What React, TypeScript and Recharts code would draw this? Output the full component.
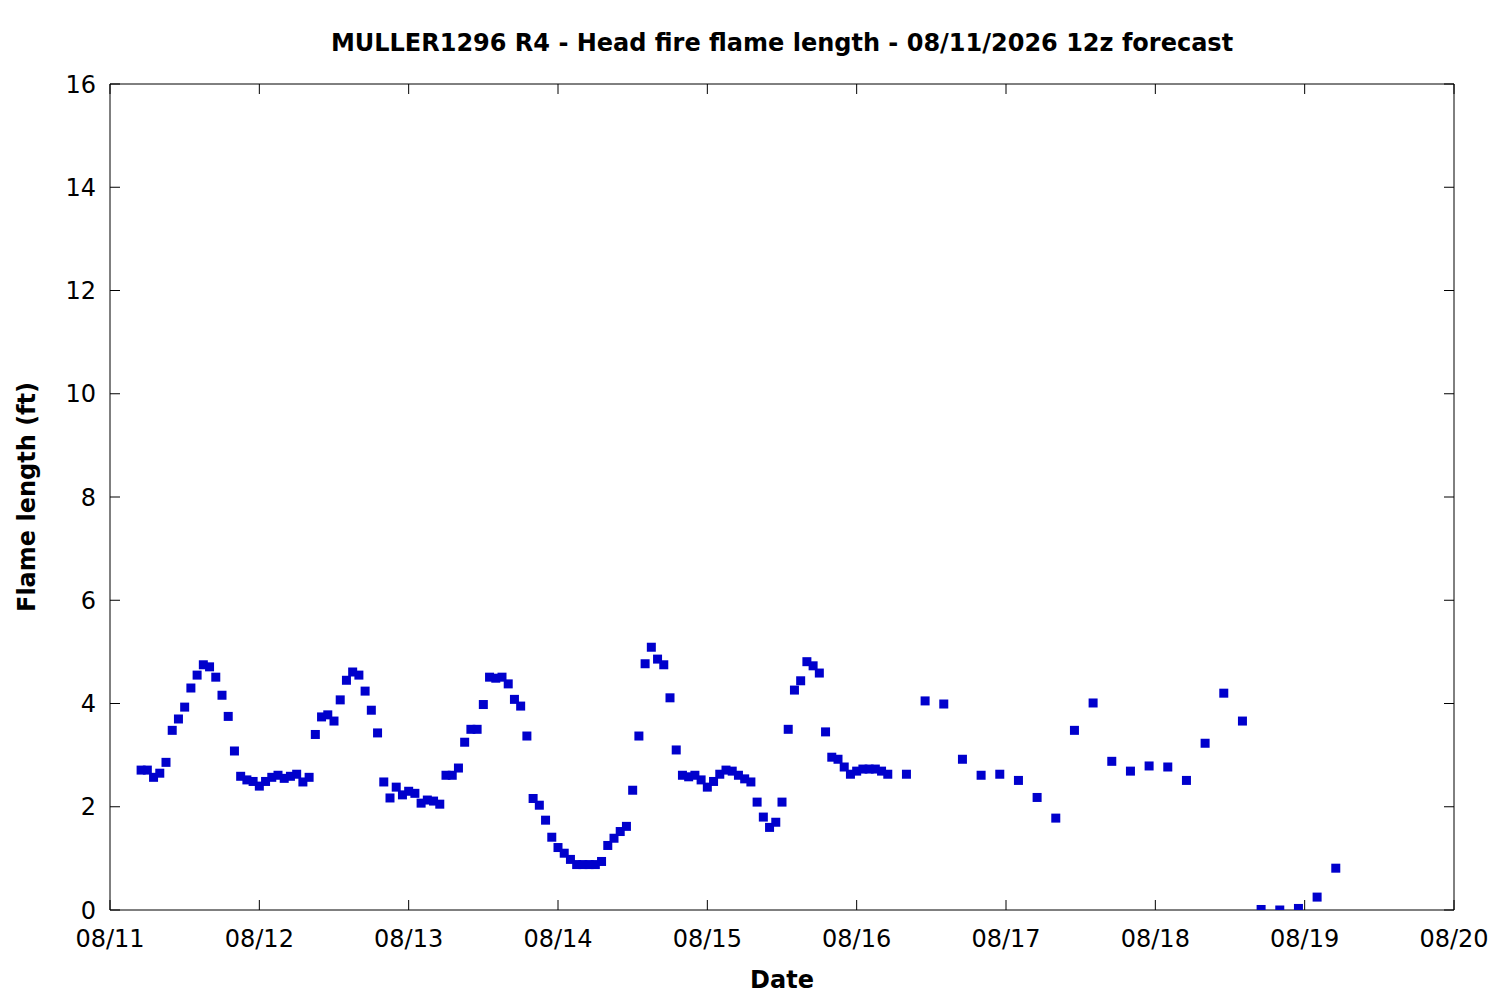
import React from 'react';
import { ScatterChart, Scatter, XAxis, YAxis, Label } from 'recharts';

// Hours since 08/11 00z for each forecast point
const forecastHours = [
  5, 6, 7, 8, 9, 10, 11, 12, 13, 14, 15, 16, 17, 18, 19, 20, 21, 22, 23, 24,
  25, 26, 27, 28, 29, 30, 31, 32, 33, 34, 35, 36, 37, 38, 39, 40, 41, 42, 43, 44,
  45, 46, 47, 48, 49, 50, 51, 52, 53, 54, 55, 56, 57, 58, 59, 60, 61, 62, 63, 64,
  65, 66, 67, 68, 69, 70, 71, 72, 73, 74, 75, 76, 77, 78, 79, 80, 81, 82, 83, 84,
  85, 86, 87, 88, 89, 90, 91, 92, 93, 94, 95, 96, 97, 98, 99, 100, 101, 102, 103, 104,
  105, 106, 107, 108, 109, 110, 111, 112, 113, 114, 115, 116, 117, 118, 119, 120, 121, 122, 123, 124,
  125, 128, 131, 134, 137, 140, 143, 146, 149, 152, 155, 158, 161, 164, 167, 170, 173, 176, 179, 182,
  185, 188, 191, 194, 197,
];

// Head fire flame length (ft)
const flameLength = [
  2.71, 2.71, 2.57, 2.65, 2.86, 3.48, 3.70, 3.93, 4.30, 4.55, 4.75, 4.71, 4.51, 4.16, 3.75, 3.08, 2.59, 2.52, 2.49, 2.40,
  2.49, 2.57, 2.61, 2.55, 2.59, 2.63, 2.48, 2.57, 3.40, 3.74, 3.78, 3.66, 4.07, 4.45, 4.61, 4.55, 4.24, 3.87, 3.43, 2.48,
  2.17, 2.38, 2.23, 2.30, 2.26, 2.07, 2.13, 2.11, 2.05, 2.61, 2.61, 2.75, 3.25, 3.50, 3.50, 3.98, 4.51, 4.49, 4.51, 4.38,
  4.08, 3.95, 3.37, 2.16, 2.03, 1.74, 1.41, 1.21, 1.10, 0.98, 0.88, 0.88, 0.88, 0.88, 0.94, 1.25, 1.39, 1.52, 1.62, 2.32,
  3.37, 4.77, 5.09, 4.86, 4.75, 4.11, 3.10, 2.61, 2.58, 2.61, 2.52, 2.38, 2.49, 2.63, 2.71, 2.69, 2.61, 2.54, 2.48, 2.09,
  1.80, 1.60, 1.70, 2.09, 3.50, 4.26, 4.44, 4.81, 4.73, 4.59, 3.45, 2.96, 2.92, 2.77, 2.63, 2.69, 2.73, 2.73, 2.73, 2.69,
  2.63, 2.63, 4.05, 3.99, 2.92, 2.61, 2.63, 2.51, 2.18, 1.78, 3.48, 4.01, 2.88, 2.69, 2.79, 2.77, 2.51, 3.23, 4.20, 3.66,
  0.01, 0.00, 0.03, 0.25, 0.81,
];

const dateTickHours = [0, 24, 48, 72, 96, 120, 144, 168, 192, 216];
const dateTickLabels = ['08/11', '08/12', '08/13', '08/14', '08/15', '08/16', '08/17', '08/18', '08/19', '08/20'];
const flameTicks = [0, 2, 4, 6, 8, 10, 12, 14, 16];

const TITLE = 'MULLER1296 R4 - Head fire flame length - 08/11/2026 12z forecast';
const X_TITLE = 'Date';
const Y_TITLE = 'Flame length (ft)';

const FONT = 'DejaVu Sans';
const MARK = '#0000CC';

const data = forecastHours.map((h, i) => ({ x: h, y: flameLength[i] }));

const labelFor = (v: number) => {
  const i = dateTickHours.indexOf(v);
  return i >= 0 ? dateTickLabels[i] : '';
};

const BottomTick = (p: any) => (
  <g>
    <line x1={p.x} y1={p.y} x2={p.x} y2={p.y - 10} stroke="#000" strokeWidth={1} />
    <text x={p.x} y={p.y + 37} textAnchor="middle" fontSize={24} fontFamily={FONT} fill="#000">
      {labelFor(p.payload.value)}
    </text>
  </g>
);

const TopTick = (p: any) => (
  <line x1={p.x} y1={p.y} x2={p.x} y2={p.y + 10} stroke="#000" strokeWidth={1} />
);

const LeftTick = (p: any) => (
  <g>
    <line x1={p.x} y1={p.y} x2={p.x + 10} y2={p.y} stroke="#000" strokeWidth={1} />
    <text x={p.x - 14} y={p.y} dy="0.36em" textAnchor="end" fontSize={24} fontFamily={FONT} fill="#000">
      {p.payload.value}
    </text>
  </g>
);

const RightTick = (p: any) => (
  <line x1={p.x} y1={p.y} x2={p.x - 10} y2={p.y} stroke="#000" strokeWidth={1} />
);

const TitleLabel = (p: any) => {
  const vb = p.viewBox || { x: 110, y: 83, width: 1344, height: 1 };
  return (
    <text x={vb.x + vb.width / 2} y={vb.y + vb.height - 33} textAnchor="middle" fontSize={24} fontWeight="bold" fontFamily={FONT} fill="#000">
      {TITLE}
    </text>
  );
};

const XTitleLabel = (p: any) => {
  const vb = p.viewBox || { x: 110, y: 910, width: 1344 };
  return (
    <text x={vb.x + vb.width / 2} y={vb.y + 78} textAnchor="middle" fontSize={24} fontWeight="bold" fontFamily={FONT} fill="#000">
      {X_TITLE}
    </text>
  );
};

const YTitleLabel = (p: any) => {
  const vb = p.viewBox || { x: 0, y: 84, width: 110, height: 826 };
  const cx = vb.x + 35;
  const cy = vb.y + vb.height / 2;
  return (
    <text x={cx} y={cy} transform={`rotate(-90, ${cx}, ${cy})`} textAnchor="middle" fontSize={24} fontWeight="bold" fontFamily={FONT} fill="#000">
      {Y_TITLE}
    </text>
  );
};

const SquareMark = (p: any) => (
  <rect x={p.cx - 4.5} y={p.cy - 4.5} width={9} height={9} fill={MARK} />
);

const NoMark = () => <g />;

export default function App() {
  return (
    <div style={{ position: 'absolute', left: 0, top: 0, width: 1500, height: 1000, background: '#fff' }}>
      <ScatterChart width={1500} height={1000} margin={{ top: 83, right: 45, bottom: 0, left: 0 }}>
        <XAxis
          xAxisId="bottom"
          type="number"
          dataKey="x"
          orientation="bottom"
          domain={[0, 216]}
          ticks={dateTickHours}
          allowDataOverflow
          height={90}
          tickSize={0}
          tickMargin={0}
          tickLine={false}
          tick={BottomTick}
          axisLine={{ stroke: '#000', strokeWidth: 1 }}
          interval={0}
        >
          <Label content={XTitleLabel} />
        </XAxis>
        <XAxis
          xAxisId="top"
          type="number"
          dataKey="x"
          orientation="top"
          domain={[0, 216]}
          ticks={dateTickHours}
          allowDataOverflow
          height={1}
          tickSize={0}
          tickMargin={0}
          tickLine={false}
          tick={TopTick}
          axisLine={{ stroke: '#000', strokeWidth: 1 }}
          interval={0}
        >
          <Label content={TitleLabel} />
        </XAxis>
        <YAxis
          yAxisId="left"
          type="number"
          dataKey="y"
          orientation="left"
          domain={[0, 16]}
          ticks={flameTicks}
          allowDataOverflow
          width={110}
          tickSize={0}
          tickMargin={0}
          tickLine={false}
          tick={LeftTick}
          axisLine={{ stroke: '#000', strokeWidth: 1 }}
          interval={0}
        >
          <Label content={YTitleLabel} />
        </YAxis>
        <YAxis
          yAxisId="right"
          type="number"
          dataKey="y"
          orientation="right"
          domain={[0, 16]}
          ticks={flameTicks}
          allowDataOverflow
          width={1}
          tickSize={0}
          tickMargin={0}
          tickLine={false}
          tick={RightTick}
          axisLine={{ stroke: '#000', strokeWidth: 1 }}
          interval={0}
        />
        <Scatter
          data={data}
          xAxisId="top"
          yAxisId="right"
          shape={NoMark}
          isAnimationActive={false}
        />
        <Scatter
          data={data}
          xAxisId="bottom"
          yAxisId="left"
          shape={SquareMark}
          fill={MARK}
          isAnimationActive={false}
        />
      </ScatterChart>
    </div>
  );
}
